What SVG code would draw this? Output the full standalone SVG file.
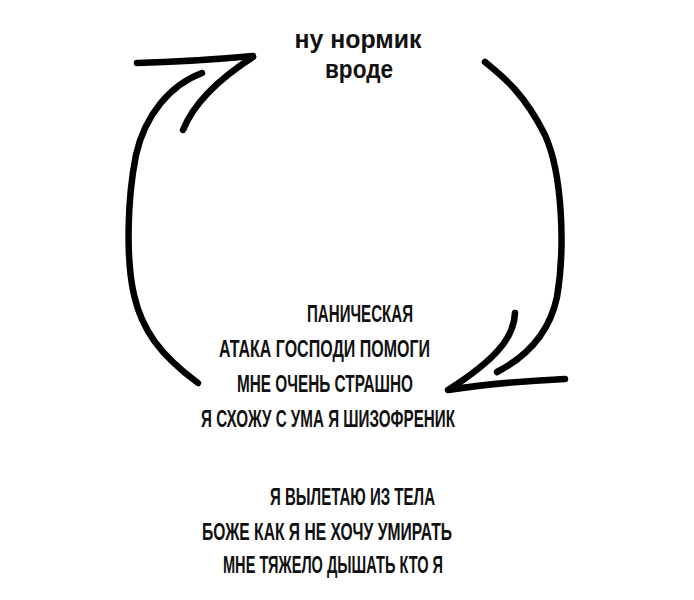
<svg xmlns="http://www.w3.org/2000/svg" width="694" height="600" viewBox="0 0 694 600">
<style>
.ln{fill:none;stroke:#000;stroke-width:6.5;stroke-linecap:round;stroke-linejoin:round}
.top{font-family:"Liberation Sans","Open Sans",sans-serif;font-weight:700;font-size:26px;fill:#111}
.cap{font-family:"Liberation Sans","DejaVu Sans",sans-serif;font-weight:700;font-size:23.5px;fill:#111}
</style>
<rect width="694" height="600" fill="#fff"/>
<g id="connectors">
<path class="ln" d="M137,63 C180,62 220,59 253,56"/>
<path class="ln" d="M253,57 C225,75 195,100 183,130"/>
<path class="ln" d="M202,73 C170,85 145,115 136,155 C127,200 126,260 134,295 C142,330 160,355 198,383"/>
<path class="ln" d="M485,62 C505,78 525,95 545,135 C563,175 565,250 557,297 C550,330 530,355 497,372"/>
<path class="ln" d="M515,313 C514,338 495,360 448,390 Q500,382 565,379"/>
</g>
<g id="node-calm">
<text class="top" x="358" y="48" text-anchor="middle" textLength="127" lengthAdjust="spacingAndGlyphs">ну нормик</text>
<text class="top" x="359" y="78" text-anchor="middle" textLength="68" lengthAdjust="spacingAndGlyphs">вроде</text>
</g>
<g id="node-panic">
<text class="cap" x="307" y="322" textLength="106" lengthAdjust="spacingAndGlyphs">ПАНИЧЕСКАЯ</text>
<text class="cap" x="219" y="357" textLength="211" lengthAdjust="spacingAndGlyphs">АТАКА ГОСПОДИ ПОМОГИ</text>
<text class="cap" x="237" y="392" textLength="176" lengthAdjust="spacingAndGlyphs">МНЕ ОЧЕНЬ СТРАШНО</text>
<text class="cap" x="201" y="427" textLength="254" lengthAdjust="spacingAndGlyphs">Я СХОЖУ С УМА Я ШИЗОФРЕНИК</text>
</g>
<g id="node-panic-2">
<text class="cap" x="270" y="505" textLength="165" lengthAdjust="spacingAndGlyphs">Я ВЫЛЕТАЮ ИЗ ТЕЛА</text>
<text class="cap" x="202" y="540" textLength="250" lengthAdjust="spacingAndGlyphs">БОЖЕ КАК Я НЕ ХОЧУ УМИРАТЬ</text>
<text class="cap" x="223" y="573" textLength="220" lengthAdjust="spacingAndGlyphs">МНЕ ТЯЖЕЛО ДЫШАТЬ КТО Я</text>
</g>
</svg>
